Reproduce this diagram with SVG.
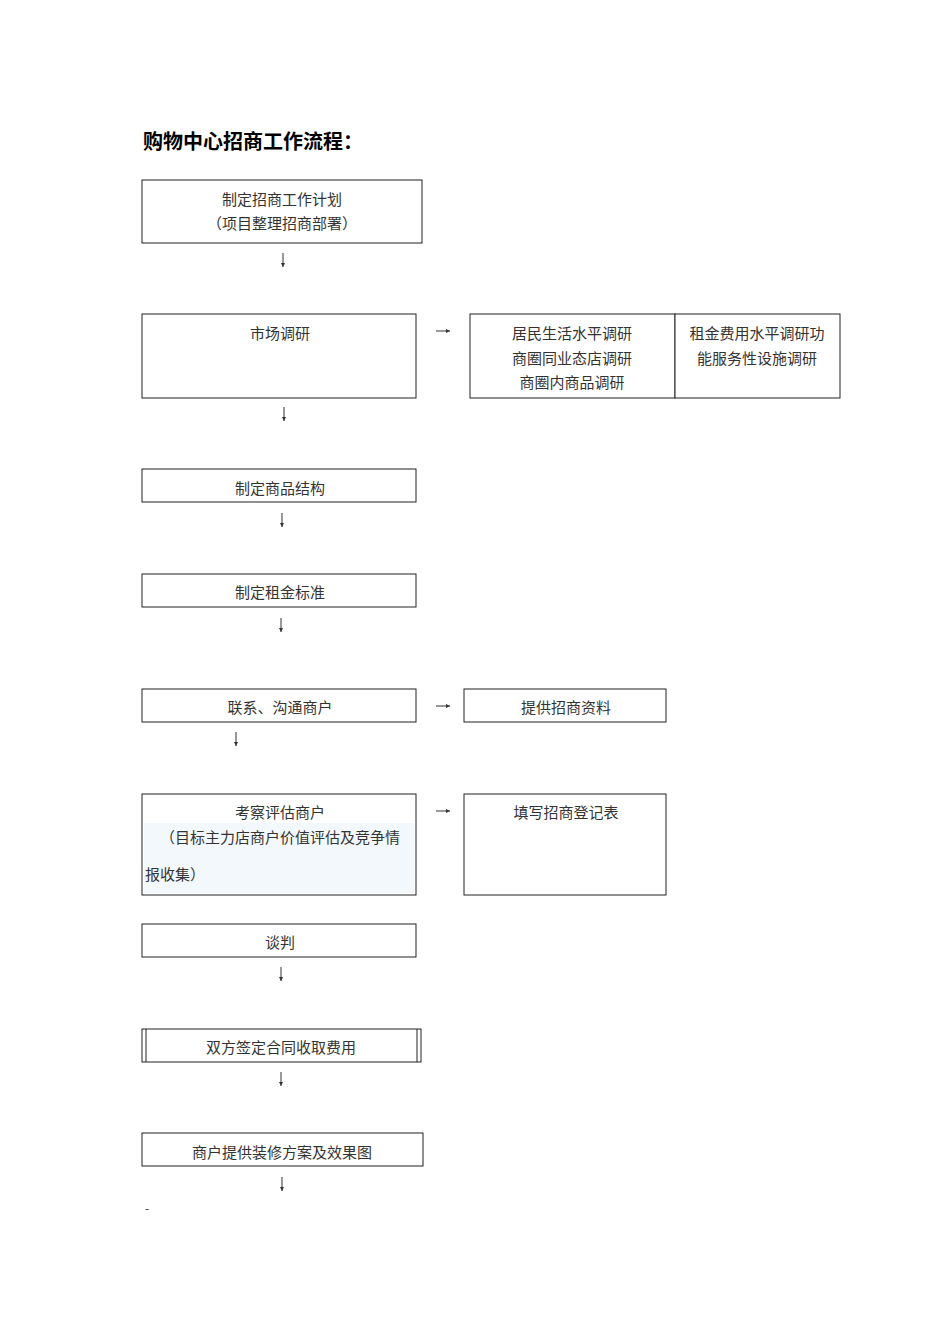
<svg xmlns="http://www.w3.org/2000/svg" width="950" height="1344" viewBox="0 0 950 1344">
<style>
rect.b{fill:#fff;stroke:#222;stroke-width:1}
text{font-family:"Noto Sans CJK SC","Liberation Serif",serif;font-size:15px;fill:#333;text-anchor:middle;dominant-baseline:central}
.c line{stroke:#333;stroke-width:1}
</style>
<defs><marker id="a" markerWidth="4" markerHeight="4" refX="4" refY="2" orient="auto" markerUnits="userSpaceOnUse"><path d="M0,0L4,2L0,4Z" fill="#333"/></marker></defs>
<rect width="950" height="1344" fill="#fff"/>
<text x="143" y="140" style="text-anchor:start;font-size:20px;font-weight:bold;fill:#000">购物中心招商工作流程：</text>
<g id="n1"><rect class="b" x="142" y="180" width="280" height="63"/><text x="282" y="198">制定招商工作计划</text><text x="282" y="222">（项目整理招商部署）</text></g>
<g id="n2"><rect class="b" x="142" y="314" width="274" height="84"/><text x="280" y="332">市场调研</text></g>
<g id="n3"><rect class="b" x="470" y="314" width="205" height="84"/><text x="572" y="332">居民生活水平调研</text><text x="572" y="357">商圈同业态店调研</text><text x="572" y="381">商圈内商品调研</text></g>
<g id="n3b"><rect class="b" x="675" y="314" width="165" height="84"/><text x="757" y="332">租金费用水平调研功</text><text x="757" y="357">能服务性设施调研</text></g>
<g id="n4"><rect class="b" x="142" y="469" width="274" height="33"/><text x="280" y="487">制定商品结构</text></g>
<g id="n5"><rect class="b" x="142" y="574" width="274" height="33"/><text x="280" y="591">制定租金标准</text></g>
<g id="n6"><rect class="b" x="142" y="689" width="274" height="33"/><text x="280" y="706">联系、沟通商户</text></g>
<g id="n6b"><rect class="b" x="464" y="689" width="202" height="33"/><text x="566" y="706">提供招商资料</text></g>
<g id="n7"><rect class="b" x="142" y="794" width="274" height="101"/><rect x="144" y="823" width="270" height="70" fill="#f3f8fd"/><text x="280" y="811">考察评估商户</text><text x="280" y="836">（目标主力店商户价值评估及竞争情</text><text x="145" y="873" style="text-anchor:start">报收集）</text></g>
<g id="n7b"><rect class="b" x="464" y="794" width="202" height="101"/><text x="566" y="811">填写招商登记表</text></g>
<g id="n8"><rect class="b" x="142" y="924" width="274" height="33"/><text x="280" y="941">谈判</text></g>
<g id="n9"><rect class="b" x="142" y="1029" width="279" height="33"/><line x1="146" y1="1029" x2="146" y2="1062" stroke="#222"/><line x1="417" y1="1029" x2="417" y2="1062" stroke="#222"/><text x="281" y="1046">双方签定合同收取费用</text></g>
<g id="n10"><rect class="b" x="142" y="1133" width="281" height="33"/><text x="282" y="1151">商户提供装修方案及效果图</text></g>
<g class="c" id="connectors">
<line x1="283" y1="253" x2="283" y2="267" marker-end="url(#a)"/>
<line x1="284" y1="407" x2="284" y2="421" marker-end="url(#a)"/>
<line x1="282" y1="513" x2="282" y2="527" marker-end="url(#a)"/>
<line x1="281" y1="618" x2="281" y2="632" marker-end="url(#a)"/>
<line x1="236" y1="732" x2="236" y2="746" marker-end="url(#a)"/>
<line x1="281" y1="967" x2="281" y2="981" marker-end="url(#a)"/>
<line x1="281" y1="1072" x2="281" y2="1086" marker-end="url(#a)"/>
<line x1="282" y1="1177" x2="282" y2="1191" marker-end="url(#a)"/>
<line x1="436" y1="331" x2="450" y2="331" marker-end="url(#a)"/>
<line x1="436" y1="706" x2="450" y2="706" marker-end="url(#a)"/>
<line x1="436" y1="811" x2="450" y2="811" marker-end="url(#a)"/>
</g>
<text x="145" y="1207" style="text-anchor:start;font-size:12px">-</text>
</svg>
